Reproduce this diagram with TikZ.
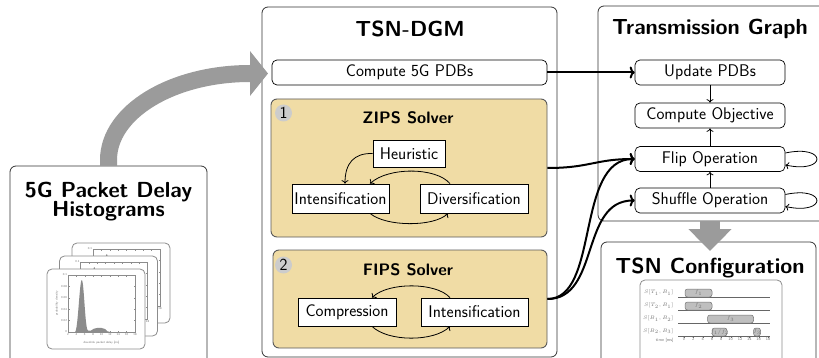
\documentclass[tikz,border=0pt]{standalone}
\usetikzlibrary{arrows.meta}
\definecolor{solverfill}{RGB}{240,220,165}
\definecolor{bigarrow}{RGB}{155,155,155}
\newcommand\histcard{%
 \filldraw[fill=white,draw=black!45,line width=0.8pt,rounded corners=5pt] (47,269) rectangle (145,349);
 \fill[black!45] (68,332) -- (75,332) .. controls (78,331) and (79.5,280) .. (81.8,280) .. controls (84,280) and (85,330) .. (88,330.5) -- (91,330.5) .. controls (94,327.5) and (101,327) .. (105,329) .. controls (107,331) and (108,332) .. (110,332) -- cycle;
 \draw[black!45,line width=0.4pt] (68,275) rectangle (135,332);
 \foreach \i in {0,...,8}{\draw[black!45,line width=0.3pt] (68+\i*8.375,332) -- ++(0,-1.5) (68+\i*8.375,275) -- ++(0,1.5);}
 \foreach \j in {0,...,5}{\draw[black!45,line width=0.3pt] (68,332-\j*11.4) -- ++(1.5,0) (135,332-\j*11.4) -- ++(-1.5,0);}
 \foreach \j/\l in {0/0,1/0.02,2/0.04,3/0.06,4/0.08,5/0.1}{\node[tinytext,anchor=east] (yl\j) at (67.5,332-\j*11.4) {\l};}
 \foreach \i in {0,...,8}{\pgfmathtruncatemacro\lab{2+2*\i}\node[tinytext,anchor=north] (xl\i) at (68+\i*8.375,332.5) {\lab};}
 \node[tinytext,rotate=90] (ylab) at (57,303.5) {probability density};
 \node[tinytext] (xlab) at (101.5,343) {downlink packet delay [ms]};
}
\begin{document}
\begin{tikzpicture}[x=1pt,y=-1pt,
  font=\sffamily\fontsize{16.9}{20}\selectfont,
  outerbox/.style={draw=black!80,line width=0.8pt,rounded corners=6pt,inner sep=0pt},
  proc/.style={draw,line width=0.7pt,rounded corners=5pt,minimum width=150pt,minimum height=25pt,inner sep=0pt,fill=white},
  sq/.style={draw,line width=0.7pt,fill=white,inner sep=0pt,minimum height=28pt},
  solver/.style={draw=black!65,line width=0.9pt,fill=solverfill,rounded corners=6pt,inner sep=0pt},
  bigtitle/.style={font=\sffamily\bfseries\fontsize{21.8}{26}\selectfont,anchor=base,inner sep=0pt},
  soltitle/.style={font=\sffamily\bfseries\fontsize{16.6}{19}\selectfont,anchor=base,inner sep=0pt},
  numc/.style={circle,fill=black!20,minimum size=17pt,inner sep=0pt},
  tinytext/.style={font=\sffamily\fontsize{3}{3.5}\selectfont,text=black!55,inner sep=0.4pt},
  schtext/.style={font=\sffamily\fontsize{4.2}{5}\selectfont,text=black!55,inner sep=0.4pt},
  thin arr/.style={line width=0.8pt,-{To[length=3.5pt,width=7pt]}},
  thick arr/.style={line width=2pt,-{To[length=5pt,width=12pt]}},
  bar/.style={fill=black!25,draw=black!55,line width=0.5pt,rounded corners=2.5pt}
]
\clip (0,0) rectangle (819,358);
% ---- left box ----
\node[outerbox,minimum width=197pt,minimum height=206pt] (histbox) at (108.5,269) {};
\node[bigtitle] (ht1) at (108.5,197) {5G Packet Delay};
\node[bigtitle] (ht2) at (108.5,217) {Histograms};
\begin{scope}[shift={(25,-26)}]\histcard\end{scope}
\begin{scope}[shift={(12.5,-13)}]\histcard\end{scope}
\histcard
% ---- TSN-DGM ----
\node[outerbox,minimum width=295pt,minimum height=350pt] (dgm) at (409.5,182) {};
\node[bigtitle] (dgmt) at (410,37) {TSN-DGM};
\node[proc,minimum width=275pt] (pdb) at (409.5,72.5) {Compute 5G PDBs};
% ZIPS
\node[solver,minimum width=276pt,minimum height=138pt] (zips) at (409,168) {};
\node[numc] (n1) at (283.5,113) {1};
\node[soltitle] (zipst) at (408,124) {ZIPS Solver};
\node[sq,minimum width=72pt,minimum height=27pt] (heur) at (409,153.5) {Heuristic};
\node[sq,minimum width=97pt,minimum height=29pt] (int1) at (340.5,198.5) {Intensification};
\node[sq,minimum width=108pt,minimum height=29pt] (div) at (474,198.5) {Diversification};
\draw[thin arr] (heur.west) .. controls (354,153) and (345,163) .. (int1.north -| 345,0);
\draw[thin arr] (div.north -| 450,0) .. controls (436,167) and (388,167) .. (int1.north -| 370,0);
\draw[thin arr] (int1.south -| 370,0) .. controls (386,227) and (434,227) .. (div.south -| 448,0);
% FIPS
\node[solver,minimum width=274pt,minimum height=98pt] (fips) at (410,299) {};
\node[numc] (n2) at (283.5,265) {2};
\node[soltitle] (fipst) at (408,275) {FIPS Solver};
\node[sq,minimum width=98pt] (comp) at (347,312) {Compression};
\node[sq,minimum width=107pt] (int2) at (474.5,312) {Intensification};
\draw[thin arr] (int2.north -| 450,0) .. controls (436,282) and (388,282) .. (comp.north -| 372,0);
\draw[thin arr] (comp.south -| 372,0) .. controls (388,342) and (434,342) .. (int2.south -| 450,0);
% ---- Transmission graph ----
\node[outerbox,minimum width=232pt,minimum height=215pt] (tg) at (714,113.5) {};
\node[bigtitle] (tgt) at (710,35) {Transmission Graph};
\node[proc] (upd) at (710,72.5) {Update PDBs};
\node[proc] (obj) at (710,115.5) {Compute Objective};
\node[proc] (flip) at (710,159) {Flip Operation};
\node[proc] (shuf) at (710,200.5) {Shuffle Operation};
\draw[thin arr] (upd.south) -- (obj.north);
\draw[thin arr] (flip.north) -- (obj.south);
\draw[thin arr] (shuf.north) -- (flip.south);
\draw[thin arr] ([yshift=6pt]flip.east) .. controls +(42,-9) and +(42,9) .. ([yshift=-6pt]flip.east);
\draw[thin arr] ([yshift=6pt]shuf.east) .. controls +(42,-9) and +(42,9) .. ([yshift=-6pt]shuf.east);
% ---- TSN configuration ----
\node[outerbox,minimum width=215pt,minimum height=130pt] (cfg) at (708.5,307) {};
\node[bigtitle] (cfgt) at (710,273) {TSN Configuration};
\draw[black!45,line width=0.8pt,rounded corners=5pt] (640,280) rectangle (782,372);
\foreach \yy in {297,310,323}{\draw[black!60,line width=0.5pt] (678,\yy) -- (770,\yy);}
\draw[black!60,line width=0.5pt] (678,336) -- (770,336);
\foreach \t in {0,2,...,18}{\draw[black!60,line width=0.3pt] (684+\t*4.667,336) -- ++(0,1.5);
  \node[schtext,anchor=north] (tk\t) at (684+\t*4.667,337.5) {\t};}
\node[schtext,anchor=north east] (tlab) at (674,337.5) {time [ms]};
\node[schtext,anchor=east] (r1) at (674,292.5) {$S[T_1,B_1]$};
\node[schtext,anchor=east] (r2) at (674,305.5) {$S[T_2,B_1]$};
\node[schtext,anchor=east] (r3) at (674,318.5) {$S[B_1,B_2]$};
\node[schtext,anchor=east] (r4) at (674,331) {$S[B_2,B_3]$};
\draw[bar] (685,289) rectangle node[schtext] (f1) {$f_1$} (712,297);
\draw[bar] (685,302) rectangle node[schtext] (f2) {$f_2$} (712,310);
\draw[bar] (707.5,315) rectangle node[schtext] (f3) {$f_3$} (753.5,323);
\draw[bar] (712,328) rectangle node[schtext] (f12) {$f_1/f_2$} (727,336);
\draw[bar] (753.5,328) rectangle node[schtext] (f3b) {$f_3$} (760.5,336);
% ---- thick arrows ----
\draw[thick arr] (pdb.east) -- (upd.west);
\draw[thick arr] (zips.east) .. controls (590,168) and (595,159) .. (flip.west);
\draw[thick arr] (fips.east) .. controls (600,299) and (575,159) .. (flip.west);
\draw[thick arr] (fips.east) .. controls (600,299) and (580,200.5) .. (shuf.west);
% ---- big gray arrows ----
\coordinate (ga0) at (108.5,166);
\coordinate (ga1) at (250,73.5);
\coordinate (ga2) at (268,73.5);
\draw[bigarrow,line width=17pt,-{Triangle[length=18pt,width=44pt]}] (ga0) -- (108.5,160) .. controls (108.5,112) and (172,73.5) .. (ga1) -- (ga2);
\coordinate (gb0) at (710,221.5);
\coordinate (gb1) at (710,251);
\draw[bigarrow,line width=20pt,-{Triangle[length=22pt,width=42pt]}] (gb0) -- (gb1);
\end{tikzpicture}
\end{document}
